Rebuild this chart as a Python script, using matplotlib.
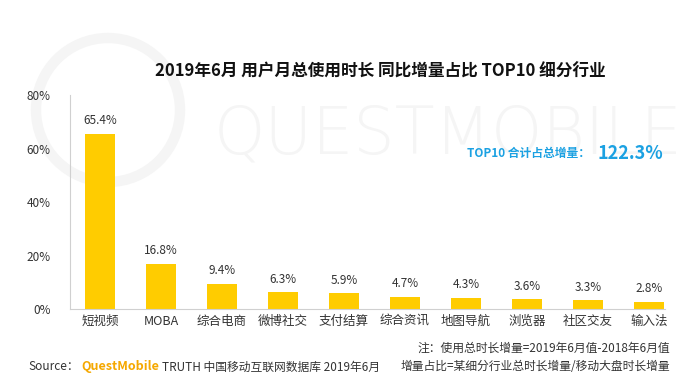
import matplotlib
matplotlib.use('Agg')
import matplotlib.pyplot as plt
from matplotlib.patches import Circle

plt.rcParams['font.family'] = ['Noto Sans CJK SC', 'DejaVu Sans']

# Daten
kategorien = ['短视频', 'MOBA', '综合电商', '微博社交', '支付结算', '综合资讯', '地图导航', '浏览器', '社区交友', '输入法']
werte = [65.4, 16.8, 9.4, 6.3, 5.9, 4.7, 4.3, 3.6, 3.3, 2.8]
y_ticks = [0, 20, 40, 60, 80]
summe_text = '122.3%'

gelb = '#FFCC00'
blau = '#1BA1E2'
grau = '#333333'

fig = plt.figure(figsize=(7, 3.83), dpi=100)

# Wasserzeichen (Logo-Ring + Schriftzug), hinter allem
ring = Circle((1.08, 2.73), 0.72, transform=fig.dpi_scale_trans, fill=False,
              ec='#F5F5F5', lw=7.5, zorder=-5)
fig.patches.append(ring)
fig.text(0.64, 0.645, 'QUESTMOBILE', fontsize=47, color='#F5F5F5', ha='center', va='center',
         family='DejaVu Sans', fontweight='light', zorder=-5)

ax = fig.add_axes([0.1, 0.193, 0.85, 0.559])
ax.set_zorder(2)
ax.patch.set_alpha(0)
x = list(range(len(kategorien)))
ax.bar(x, werte, width=0.49, color=gelb, zorder=2)
for xi, v in zip(x, werte):
    ax.text(xi, v + 2.5, f'{v:.1f}%', ha='center', va='bottom', fontsize=8.5, color=grau)

ax.set_xlim(-0.49, 9.26)
ax.set_ylim(0, 80)
ax.set_yticks(y_ticks)
ax.set_yticklabels([f'{t}%' for t in y_ticks], fontsize=8.5, color=grau)
ax.set_xticks(x)
ax.set_xticklabels(kategorien, fontsize=9, color=grau)
ax.tick_params(length=0, pad=4)
ax.tick_params(axis='y', pad=14)
for s in ['top', 'right']:
    ax.spines[s].set_visible(False)
for s in ['left', 'bottom']:
    ax.spines[s].set_color('#D0D0D0')
    ax.spines[s].set_linewidth(0.8)

fig.text(0.543, 0.812, '2019年6月 用户月总使用时长 同比增量占比 TOP10 细分行业',
         ha='center', va='center', fontsize=12, fontweight='bold', color='#111111')

fig.text(0.667, 0.598, 'TOP10 合计占总增量：', ha='left', va='center', fontsize=8.5,
         fontweight='bold', color=blau, zorder=3)
fig.text(0.853, 0.598, summe_text, ha='left', va='center', fontsize=13,
         fontweight='bold', color=blau, zorder=3)

fig.text(0.957, 0.09, '注：使用总时长增量=2019年6月值-2018年6月值', ha='right', va='center',
         fontsize=8.5, color=grau)
fig.text(0.957, 0.042, '增量占比=某细分行业总时长增量/移动大盘时长增量', ha='right', va='center',
         fontsize=8.5, color=grau)
fig.text(0.041, 0.042, 'Source：', ha='left', va='center', fontsize=8.5, color=grau)
fig.text(0.116, 0.042, 'QuestMobile', ha='left', va='center', fontsize=9,
         fontweight='bold', color='#F5A800')
fig.text(0.231, 0.042, 'TRUTH 中国移动互联网数据库 2019年6月', ha='left', va='center',
         fontsize=8.5, color=grau)

fig.savefig('out.png', dpi=100)
